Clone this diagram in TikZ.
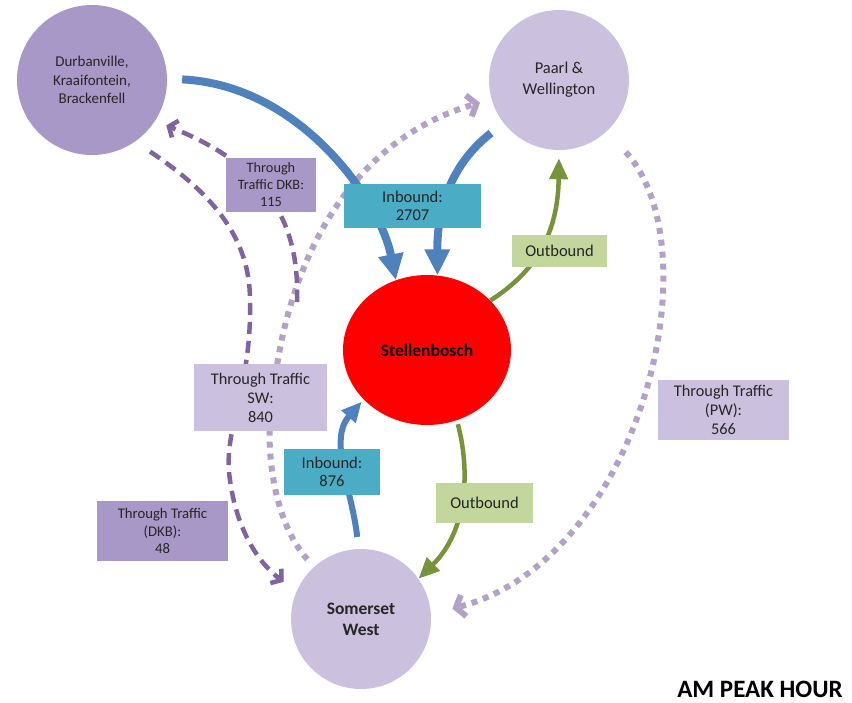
\documentclass[tikz,border=0pt]{standalone}
\usepackage{fontspec}
\setmainfont{Carlito}
\usetikzlibrary{arrows.meta, shapes.geometric}
\definecolor{lavd}{RGB}{168,152,200}
\definecolor{lavl}{RGB}{203,193,222}
\definecolor{tealb}{RGB}{75,172,198}
\definecolor{greenb}{RGB}{195,214,155}
\definecolor{greena}{RGB}{119,147,60}
\definecolor{bluea}{RGB}{79,129,189}
\definecolor{purd}{RGB}{128,100,162}
\definecolor{purl}{RGB}{179,162,199}
\newcommand{\fs}[2]{\fontsize{#1}{#2}\selectfont}
\tikzset{
  twn/.style = {circle, inner sep=0pt, align=center, text=black!85},
  bx/.style = {rectangle, inner sep=0pt, align=center, text=black!85},
  inb/.style = {draw=bluea, line width=8pt, -{Triangle[length=26pt,width=24pt]}},
  inbs/.style = {draw=bluea, line width=6pt, -{Triangle[length=20pt,width=18pt]}},
  outb/.style = {draw=greena, line width=4.5pt, -{Triangle[length=21pt,width=18pt]}},
  thr/.style = {draw=purd, line width=4.5pt, dash pattern=on 12pt off 7pt,
    -{Straight Barb[length=7pt,width=18pt]}},
  thrl/.style = {draw=purl, line width=6pt, dash pattern=on 6pt off 6pt,
    -{Straight Barb[length=8pt,width=22pt]}}
}

\begin{document}
\begin{tikzpicture}[x=1pt, y=-1pt]
  \useasboundingbox (0,0) rectangle (852,702);
  % towns
  \node [twn, fill=lavd, minimum size=150pt, font=\fs{15}{18.5}] (dkb) at (92,80) {Durbanville,\\Kraaifontein,\\Brackenfell};
  \node [twn, fill=lavl, minimum size=140pt, font=\fs{16.5}{21}] (pw) at (559,80) {Paarl \&\\Wellington};
  \node [ellipse, fill=red, minimum width=168pt, minimum height=150pt, inner sep=0pt,
    font=\bfseries\fs{17.5}{21}] (stb) at (427,350) {Stellenbosch};
  \node [twn, fill=lavl, minimum size=140pt, font=\bfseries\fs{17.5}{21}] (sw) at (361,619) {Somerset\\West};
  % flows
  \coordinate (t115) at (297,302);
  \draw [thrl, shorten <=28pt, shorten >=22pt] (pw.-47) .. controls (715,250) and (640,560) .. (sw.4);
  \draw [thrl, shorten <=10pt, shorten >=12pt] (sw.132) .. controls (272,520) and (262,440) .. (275,380)
    .. controls (290,260) and (350,140) .. (pw.196);
  \draw [thr, shorten >=12pt] (t115) .. controls (300,220) and (265,165) .. (dkb.-33);
  \draw [thr, shorten <=18pt, shorten >=16pt] (dkb.-55) .. controls (215,195) and (250,240) .. (250,300)
    .. controls (252,390) and (222,430) .. (230,480) .. controls (236,525) and (255,560) .. (sw.157);
  \draw [inb, shorten <=15pt] (dkb.1) .. controls (300,85) and (380,200) .. (stb.114);
  \draw [inb, shorten <=16pt] (pw.218) .. controls (450,165) and (437,210) .. (stb.82);
  \draw [inbs, shorten <=12pt, shorten >=3pt] (sw.92) .. controls (352,490) and (328,440) .. (stb.218);
  \draw [outb, shorten >=8pt] (stb.38) .. controls (530,275) and (558,240) .. (pw.270);
  \draw [outb, shorten <=4pt] (stb.-67) .. controls (470,470) and (468,530) .. (sw.35);
  % labels
  \node [bx, fill=lavd, minimum width=90pt, minimum height=54pt, font=\fs{14.3}{17}] (l115) at (271,185) {Through\\Traffic DKB:\\115};
  \node [bx, fill=tealb, minimum width=137pt, minimum height=44pt, font=\fs{16.5}{18}] (lin1) at (412.5,206) {Inbound:\\2707};
  \node [bx, fill=greenb, minimum width=95pt, minimum height=32pt, font=\fs{16.5}{18}] (lout1) at (559.5,251) {Outbound};
  \node [bx, fill=lavl, minimum width=133pt, minimum height=67pt, font=\fs{16.3}{19}] (lsw) at (260.5,397.5) {Through Traffic\\SW:\\840};
  \node [bx, fill=tealb, minimum width=96pt, minimum height=46pt, font=\fs{16.5}{18}] (lin2) at (332,472) {Inbound:\\876};
  \node [bx, fill=lavd, minimum width=131pt, minimum height=60pt, font=\fs{14.7}{17.5}] (l48) at (162.5,531) {Through Traffic\\(DKB):\\48};
  \node [bx, fill=greenb, minimum width=97pt, minimum height=40pt, font=\fs{16.5}{18}] (lout2) at (484.5,503) {Outbound};
  \node [bx, fill=lavl, minimum width=131pt, minimum height=60pt, font=\fs{16.3}{19}] (lpw) at (723.5,410) {Through Traffic\\(PW):\\566};
  \node [font=\bfseries\fs{25}{30}, inner sep=1pt] (ttl) at (760,689) {AM PEAK HOUR};
\end{tikzpicture}
\end{document}
